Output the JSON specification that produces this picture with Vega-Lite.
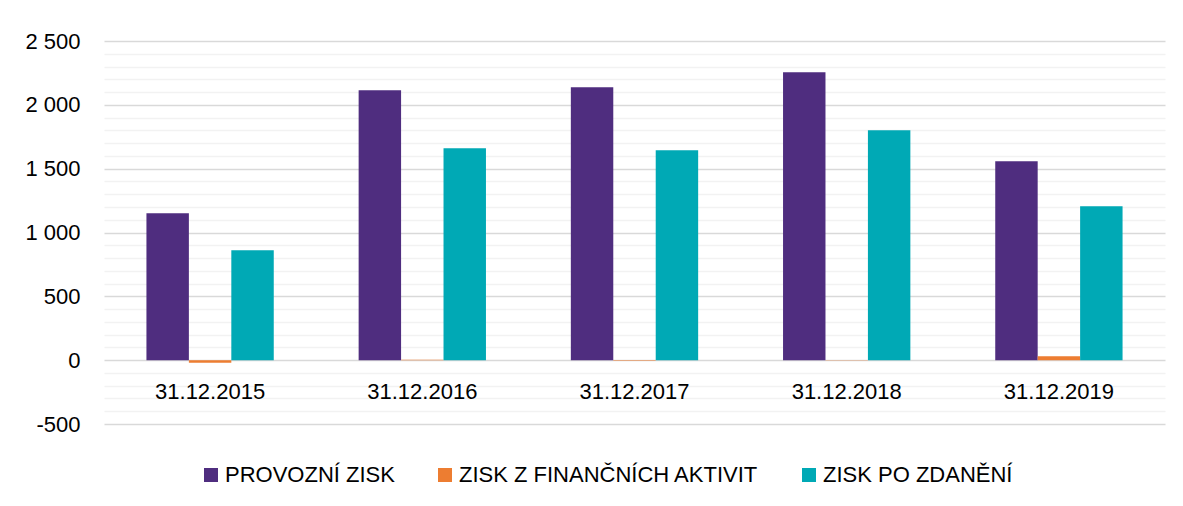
{
  "$schema": "https://vega.github.io/schema/vega-lite/v6.json",
  "autosize": {"type": "none"},
  "width": 1061,
  "height": 383,
  "padding": {"left": 104, "top": 41, "right": 18, "bottom": 82},
  "background": "white",
  "config": {
    "view": {"stroke": null},
    "font": "Liberation Sans"
  },
  "datasets": {
    "bars": [
      {"datum": "31.12.2015", "series": "PROVOZNÍ ZISK", "value": 1151},
      {"datum": "31.12.2015", "series": "ZISK Z FINANČNÍCH AKTIVIT", "value": -20},
      {"datum": "31.12.2015", "series": "ZISK PO ZDANĚNÍ", "value": 861},
      {"datum": "31.12.2016", "series": "PROVOZNÍ ZISK", "value": 2114},
      {"datum": "31.12.2016", "series": "ZISK Z FINANČNÍCH AKTIVIT", "value": 3},
      {"datum": "31.12.2016", "series": "ZISK PO ZDANĚNÍ", "value": 1660},
      {"datum": "31.12.2017", "series": "PROVOZNÍ ZISK", "value": 2138},
      {"datum": "31.12.2017", "series": "ZISK Z FINANČNÍCH AKTIVIT", "value": -5},
      {"datum": "31.12.2017", "series": "ZISK PO ZDANĚNÍ", "value": 1644},
      {"datum": "31.12.2018", "series": "PROVOZNÍ ZISK", "value": 2255},
      {"datum": "31.12.2018", "series": "ZISK Z FINANČNÍCH AKTIVIT", "value": 2},
      {"datum": "31.12.2018", "series": "ZISK PO ZDANĚNÍ", "value": 1801},
      {"datum": "31.12.2019", "series": "PROVOZNÍ ZISK", "value": 1558},
      {"datum": "31.12.2019", "series": "ZISK Z FINANČNÍCH AKTIVIT", "value": 31},
      {"datum": "31.12.2019", "series": "ZISK PO ZDANĚNÍ", "value": 1206}
    ],
    "cats": [
      {"datum": "31.12.2015"},
      {"datum": "31.12.2016"},
      {"datum": "31.12.2017"},
      {"datum": "31.12.2018"},
      {"datum": "31.12.2019"}
    ]
  },
  "layer": [
    {
      "data": {"name": "bars"},
      "mark": {"type": "bar"},
      "encoding": {
        "x": {
          "field": "datum", "type": "nominal",
          "scale": {"paddingInner": 0.4, "paddingOuter": 0.2},
          "axis": null
        },
        "xOffset": {
          "field": "series", "type": "nominal",
          "sort": ["PROVOZNÍ ZISK", "ZISK Z FINANČNÍCH AKTIVIT", "ZISK PO ZDANĚNÍ"],
          "scale": {"paddingInner": 0, "paddingOuter": 0}
        },
        "y": {
          "field": "value", "type": "quantitative",
          "scale": {"domain": [-500, 2500], "nice": false, "zero": false},
          "axis": {
            "title": null,
            "values": [-500,-400,-300,-200,-100,0,100,200,300,400,500,600,700,800,900,1000,1100,1200,1300,1400,1500,1600,1700,1800,1900,2000,2100,2200,2300,2400,2500],
            "tickCount": 100,
            "labelOverlap": false,
            "labelExpr": "datum.value % 500 === 0 ? replace(replace(format(datum.value, ','), ',', ' '), '\u2212', '-') : ''",
            "domain": false,
            "ticks": false,
            "labelPadding": 24,
            "labelFontSize": 22,
            "labelColor": "#000000",
            "labelFont": "Liberation Sans",
            "gridColor": {"condition": {"test": "datum.value % 500 === 0", "value": "#d9d9d9"}, "value": "#f2f2f2"},
            "gridWidth": 1.5,
            "gridOpacity": 1
          }
        },
        "color": {
          "field": "series", "type": "nominal",
          "sort": ["PROVOZNÍ ZISK", "ZISK Z FINANČNÍCH AKTIVIT", "ZISK PO ZDANĚNÍ"],
          "scale": {
            "domain": ["PROVOZNÍ ZISK", "ZISK Z FINANČNÍCH AKTIVIT", "ZISK PO ZDANĚNÍ"],
            "range": ["#4f2d7f", "#ed7d31", "#00a9b5"]
          },
          "legend": {
            "title": null,
            "orient": "none",
            "direction": "horizontal",
            "legendX": 96,
            "legendY": 423,
            "symbolType": "square",
            "symbolSize": 196,
            "symbolStrokeWidth": 0,
            "labelFontSize": 22,
            "labelFont": "Liberation Sans",
            "labelColor": "#000000",
            "labelLimit": 500,
            "labelOffset": 3,
            "columnPadding": 39
          }
        }
      }
    },
    {
      "data": {"name": "cats"},
      "mark": {"type": "text", "fontSize": 22, "font": "Liberation Sans", "color": "#000000", "baseline": "middle"},
      "encoding": {
        "x": {"field": "datum", "type": "nominal"},
        "y": {"datum": -250},
        "text": {"field": "datum"}
      }
    }
  ]
}
